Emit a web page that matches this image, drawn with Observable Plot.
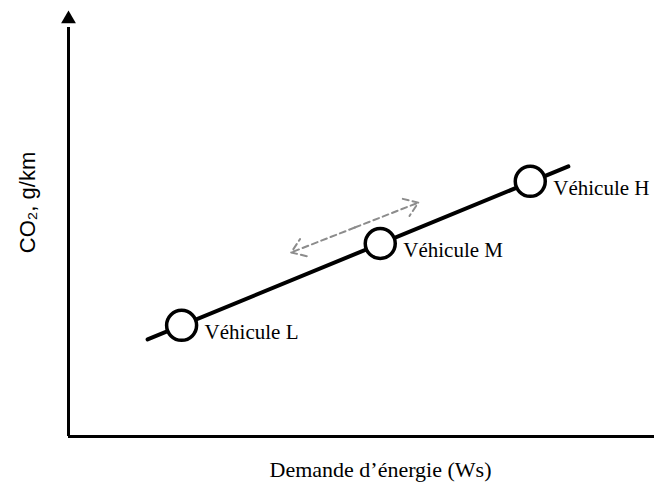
<!DOCTYPE html>
<html>
<head>
<meta charset="utf-8">
<script src="https://cdn.jsdelivr.net/npm/d3@7"></script>
<script src="https://cdn.jsdelivr.net/npm/@observablehq/plot@0.6"></script>
<style>
  html, body { margin: 0; padding: 0; background: #fff; }
  #chart svg { display: block; }
</style>
</head>
<body>
<div id="chart"></div>
<script>
// Vehicles (abstract units: energy demand vs CO2)
const vehicles = ["Véhicule L", "Véhicule M", "Véhicule H"];
const demand = [19.3, 53.2, 78.8];
const co2 = [26.1, 45.3, 59.9];
// Trend line end points
const trendDemand = [13.5, 85.3];
const trendCo2 = [22.8, 63.4];
// Dashed double arrow (shift along the line)
const shiftDemand = [38.0, 59.7];
const shiftCo2 = [43.2, 54.9];
// Axis extents
const xDomain = [0, 100];
const yDomain = [0, 100];
const yArrowTip = 98.0;
const xLabel = "Demande d’énergie (Ws)";
const yLabel = "CO₂, g/km";

const points = vehicles.map((name, i) => ({name, x: demand[i], y: co2[i]}));
const trend = trendDemand.map((x, i) => ({x, y: trendCo2[i]}));
const mid = {x: (shiftDemand[0] + shiftDemand[1]) / 2, y: (shiftCo2[0] + shiftCo2[1]) / 2};
const shifts = shiftDemand.map((x, i) => ({x1: mid.x, y1: mid.y, x2: x, y2: shiftCo2[i]}));

const serif = "'Liberation Serif', 'Times New Roman', serif";
const sans = "'Liberation Sans', Arial, sans-serif";

const chart = Plot.plot({
  width: 654,
  height: 482,
  marginLeft: 68,
  marginRight: 0,
  marginTop: 10,
  marginBottom: 46,
  style: {background: "#fff"},
  x: {domain: xDomain, axis: null},
  y: {domain: yDomain, axis: null},
  marks: [
    // axes
    Plot.ruleY([yDomain[0]], {x1: xDomain[0], x2: xDomain[1], stroke: "black", strokeWidth: 3}),
    Plot.ruleX([xDomain[0]], {y1: yDomain[0], y2: yArrowTip - 2, stroke: "black", strokeWidth: 3}),
    Plot.dot([{x: xDomain[0], y: yArrowTip}], {x: "x", y: "y", symbol: "triangle", r: 5.5, fill: "black", stroke: "none"}),
    // dashed double arrow
    Plot.arrow(shifts, {x1: "x1", y1: "y1", x2: "x2", y2: "y2", stroke: "#8c8c8c", strokeWidth: 2, strokeDasharray: "6,4", headLength: 12, headAngle: 70}),
    // trend line
    Plot.line(trend, {x: "x", y: "y", stroke: "black", strokeWidth: 4}),
    // vehicle circles
    Plot.dot(points, {x: "x", y: "y", r: 15, fill: "white", stroke: "black", strokeWidth: 3.5}),
    // vehicle labels
    Plot.text(points, {x: "x", y: "y", text: "name", textAnchor: "start", dx: 23, dy: 7, fontSize: 21, fontFamily: serif, fill: "black"}),
    // axis titles
    Plot.text([xLabel], {frameAnchor: "bottom", textAnchor: "middle", dx: 19, dy: 40, fontSize: 22, fontFamily: serif, fill: "black"}),
    Plot.text([yLabel], {frameAnchor: "left", textAnchor: "middle", dx: -41, dy: -21, rotate: -90, fontSize: 22, fontFamily: sans, fill: "black"})
  ]
});
document.getElementById("chart").appendChild(chart);
</script>
</body>
</html>
